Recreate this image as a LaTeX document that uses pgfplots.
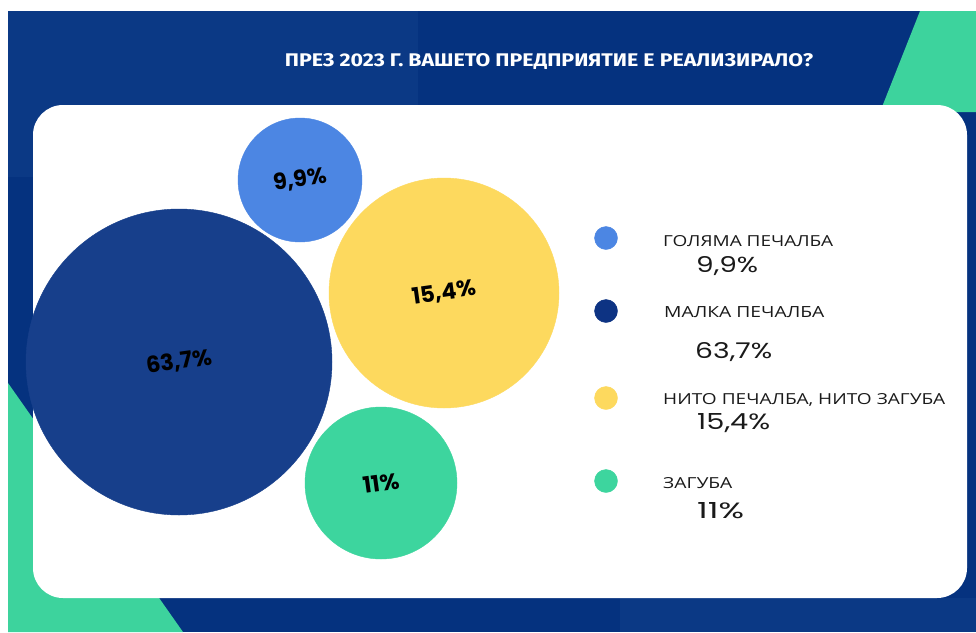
\documentclass[border=0pt]{standalone}
\usepackage{pgfplots}
\usepackage{pgfplotstable}
\pgfplotsset{compat=1.18}
\usepackage{fontspec}
\setmainfont{Open Sans}
\newfontfamily\pop{Poppins}
\newfontfamily\fira{Fira Sans}
\definecolor{bgA}{HTML}{05327F}
\definecolor{bgB}{HTML}{0B3985}
\definecolor{greenbg}{HTML}{3DD39D}
\definecolor{navyB}{HTML}{173F8B}
\definecolor{navyL}{HTML}{0D3383}
\definecolor{lblue}{HTML}{4C86E3}
\definecolor{yell}{HTML}{FDD95E}
\definecolor{grn}{HTML}{3DD59E}
\definecolor{txt}{HTML}{1A1A1A}

% bubbles: x y (px position) and value in %
\pgfplotstableread{
x y v
300 180 9.9
}\lightdata
\pgfplotstableread{
x y v
179 362 63.7
}\navydata
\pgfplotstableread{
x y v
444 293 15.4
}\yelldata
\pgfplotstableread{
x y v
381 483 11
}\grndata

\begin{document}
\begin{tikzpicture}
\begin{axis}[
  x=1pt, y=1pt, xmin=0, xmax=976, ymin=0, ymax=632, y dir=reverse,
  hide axis, scale only axis, clip=false,
  /pgf/number format/.cd, use comma, 1000 sep={}, assume math mode=true,
  /pgfplots/.cd,
  bubble/.style={only marks, mark=*, point meta=explicit,
    nodes near coords={\pgfmathprintnumber{\pgfplotspointmeta}\%},
    every node near coord/.append style={anchor=center, rotate=8, text=black,
      font=\pop\bfseries\fontsize{22.5}{26}\selectfont, inner sep=0pt}},
]
% background
\fill[white] (0,0) rectangle (976,632);
\fill[bgA] (8,11) rectangle (976,632);
\fill[bgB] (8,11) rectangle (418,177);
\fill[bgB] (620,598) rectangle (976,632);
\fill[greenbg] (920,11) -- (976,11) -- (976,112) -- (880,112) -- cycle;
\fill[greenbg] (8,383) -- (183,632) -- (8,632) -- cycle;
\fill[white, rounded corners=30pt] (33,105) rectangle (967,598);

% title
\node[anchor=base, inner sep=0pt, text=white] at (549,66)
  {\resizebox{528pt}{13pt}{\fira\bfseries ПРЕЗ 2023 Г. ВАШЕТО ПРЕДПРИЯТИЕ Е РЕАЛИЗИРАЛО?}};

% bubbles
\addplot[bubble, color=navyB, mark size=153pt] table[meta=v] {\navydata};
\addplot[bubble, color=lblue, mark size=62pt] table[meta=v] {\lightdata};
\addplot[bubble, color=yell, mark size=115pt] table[meta=v] {\yelldata};
\addplot[bubble, color=grn, mark size=76pt] table[meta=v] {\grndata};

% legend dots
\addplot[only marks, mark=*, color=lblue, mark size=11.5pt] coordinates {(606,238)};
\addplot[only marks, mark=*, color=navyL, mark size=11.5pt] coordinates {(606,311)};
\addplot[only marks, mark=*, color=yell, mark size=11.5pt] coordinates {(606,398)};
\addplot[only marks, mark=*, color=grn, mark size=11.5pt] coordinates {(606,481)};

% legend texts
\tikzset{lab/.style={anchor=base west, inner sep=0pt, text=txt}}
\node[lab] at (663,246) {\resizebox{170pt}{11pt}{ГОЛЯМА ПЕЧАЛБА}};
\node[lab] at (696,272) {\resizebox{62pt}{16pt}{\pop 9,9\%}};
\node[lab] at (664,317) {\resizebox{160pt}{11pt}{МАЛКА ПЕЧАЛБА}};
\node[lab] at (695,358) {\resizebox{77pt}{16pt}{\pop 63,7\%}};
\node[lab] at (663,404) {\resizebox{282pt}{11pt}{НИТО ПЕЧАЛБА, НИТО ЗАГУБА}};
\node[lab] at (697,429) {\resizebox{73pt}{16pt}{\pop 15,4\%}};
\node[lab] at (663,488) {\resizebox{69pt}{11pt}{ЗАГУБА}};
\node[lab] at (697,518) {\resizebox{47pt}{16pt}{\pop 11\%}};
\end{axis}
\end{tikzpicture}
\end{document}
